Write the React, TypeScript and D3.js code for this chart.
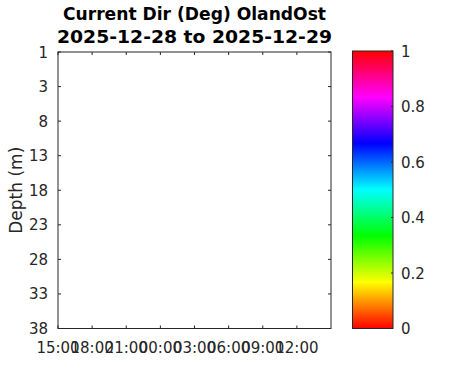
import * as d3 from 'd3';

// chart data (empty current direction field, only axes are shown)
const depths = [1, 3, 8, 13, 18, 23, 28, 33, 38];
const timeStart = new Date(2025, 11, 28, 15, 0);
const timeEnd = new Date(2025, 11, 29, 15, 0);
const timeTickLabels = ['15:00', '18:00', '21:00', '00:00', '03:00', '06:00', '09:00', '12:00'];
const colorTicks = [0, 0.2, 0.4, 0.6, 0.8, 1];
const titleLines = ['Current Dir (Deg) OlandOst', '2025-12-28 to 2025-12-29'];

const W = 471;
const H = 371;
const plot = { left: 58, right: 331, top: 52, bottom: 328.5 };
const cbar = { left: 352.5, right: 393, top: 51, bottom: 328.5 };
const axisColor = '#262626';
const font = 'DejaVu Sans, sans-serif';

export default function App() {
  const x = d3.scaleTime().domain([timeStart, timeEnd]).range([plot.left, plot.right]);
  const y = d3.scalePoint<number>().domain(depths).range([plot.top, plot.bottom]);
  const c = d3.scaleLinear().domain([0, 1]).range([cbar.bottom, cbar.top]);
  const hsv = (t: number) => d3.hsl((t * 360) % 360, 1, 0.5).toString();

  const timeTicks = timeTickLabels.map((_, i) => d3.timeHour.offset(timeStart, i * 3));
  const stops = d3.range(0, 1.0001, 1 / 12);
  const tk = 3;
  const cx = (plot.left + plot.right) / 2;

  return (
    <svg width={W} height={H} style={{ position: 'absolute', left: 0, top: 0, background: '#fff' }}>
      <defs>
        <linearGradient id="hsvGrad" x1="0" y1="1" x2="0" y2="0">
          {stops.map((s) => (
            <stop key={s} offset={s} stopColor={hsv(s)} />
          ))}
        </linearGradient>
      </defs>
      <rect width={W} height={H} fill="#fff" />

      {/* title */}
      <g fontFamily={font} fontWeight="bold" fontSize={18} textAnchor="middle" fill="#000">
        <text x={cx} y={20} textLength={263} lengthAdjust="spacingAndGlyphs">{titleLines[0]}</text>
        <text x={cx} y={42.5} textLength={275} lengthAdjust="spacingAndGlyphs">{titleLines[1]}</text>
      </g>

      {/* plot box */}
      <rect x={plot.left} y={plot.top} width={plot.right - plot.left} height={plot.bottom - plot.top}
        fill="#fff" stroke={axisColor} strokeWidth={1} />

      {/* y axis */}
      <g fontFamily={font} fontSize={15} fill={axisColor} textAnchor="end">
        {depths.map((d) => (
          <g key={d}>
            <line x1={plot.left} x2={plot.left + tk} y1={y(d)} y2={y(d)} stroke={axisColor} />
            <line x1={plot.right} x2={plot.right - tk} y1={y(d)} y2={y(d)} stroke={axisColor} />
            <text x={plot.left - 10} y={(y(d) ?? 0) + 5.5}>{d}</text>
          </g>
        ))}
      </g>
      <text transform={`translate(21.5,${(plot.top + plot.bottom) / 2}) rotate(-90)`} textAnchor="middle"
        fontFamily={font} fontSize={17} fill={axisColor}>Depth (m)</text>

      {/* x axis */}
      <g fontFamily={font} fontSize={15} fill={axisColor} textAnchor="middle">
        {timeTicks.map((t, i) => (
          <g key={i}>
            <line x1={x(t)} x2={x(t)} y1={plot.bottom} y2={plot.bottom - tk} stroke={axisColor} />
            <line x1={x(t)} x2={x(t)} y1={plot.top} y2={plot.top + tk} stroke={axisColor} />
            <text x={x(t)} y={353}>{timeTickLabels[i]}</text>
          </g>
        ))}
      </g>

      {/* colorbar */}
      <rect x={cbar.left} y={cbar.top} width={cbar.right - cbar.left} height={cbar.bottom - cbar.top}
        fill="url(#hsvGrad)" stroke={axisColor} strokeWidth={1} />
      <g fontFamily={font} fontSize={15} fill={axisColor}>
        {colorTicks.map((v) => (
          <g key={v}>
            <line x1={cbar.right} x2={cbar.right - 2} y1={c(v)} y2={c(v)} stroke={axisColor} />
            <text x={cbar.right + 8} y={c(v) + 5.5}>{v}</text>
          </g>
        ))}
      </g>
    </svg>
  );
}
